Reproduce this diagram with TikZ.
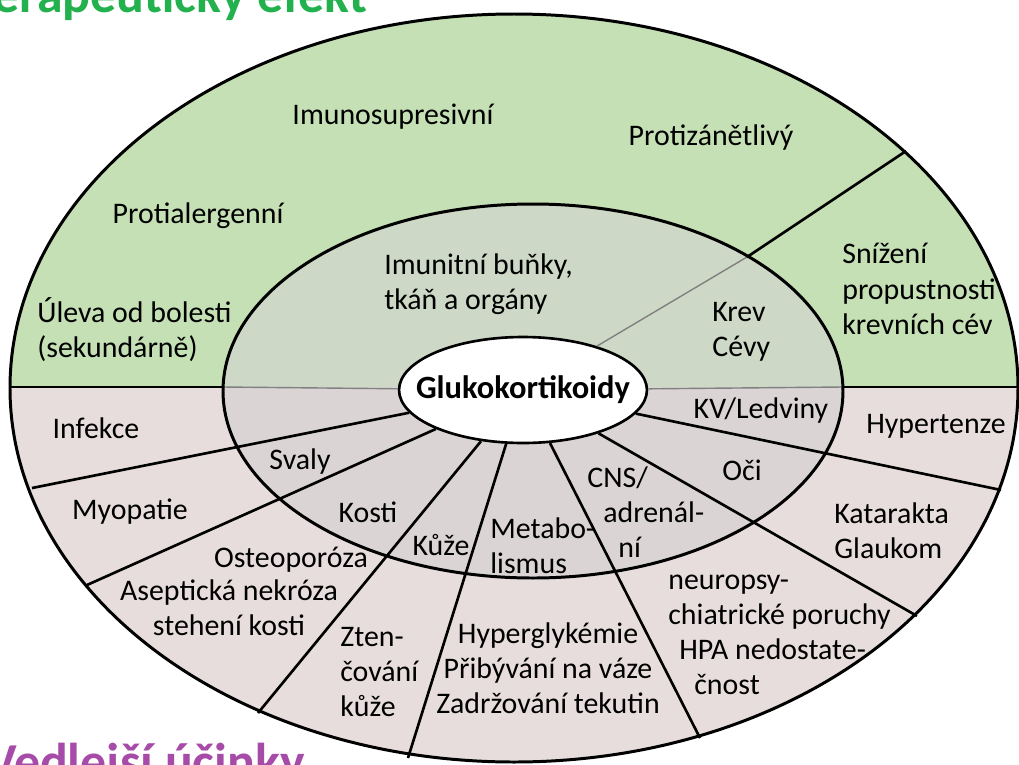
\documentclass[tikz,border=0pt]{standalone}
\usepackage{fontspec}
\setmainfont{Carlito}
\usepackage{xcolor}
\usetikzlibrary{shapes.geometric}

\definecolor{efgreen}{HTML}{C5E0B4}
\definecolor{efpink}{HTML}{E8DDDD}
\definecolor{ingreen}{HTML}{CDD9C6}
\definecolor{inpink}{HTML}{DAD4D4}
\definecolor{titlegreen}{HTML}{22B14C}
\definecolor{titlepurple}{HTML}{A64CA8}

\begin{document}
\begin{tikzpicture}[x=0.02cm, y=-0.02cm,
  font=\fontsize{17}{20}\selectfont,
  lbl/.style={inner sep=0pt, align=left},
  sector/.style={line width=1.5pt},
  faint/.style={line width=0.8pt, black!50},
  ring/.style={line width=1.7pt},
  heading/.style={anchor=base east, inner sep=0pt, font=\fontsize{29.5}{34}\selectfont\bfseries}]
\useasboundingbox (0,0) rectangle (1019,765);
\clip (0,0) rectangle (1019,765);

% halves of both rings
\begin{scope}
  \clip (0,0) rectangle (1019,387);
  \fill[efgreen] (514,388) ellipse [x radius=504, y radius=374];
  \fill[ingreen] (533,391) ellipse [x radius=310, y radius=187];
\end{scope}
\begin{scope}
  \clip (0,387) rectangle (1019,765);
  \fill[efpink] (514,388) ellipse [x radius=504, y radius=374];
  \fill[inpink] (533,391) ellipse [x radius=310, y radius=187];
\end{scope}

\node[draw, ellipse, fill=white, line width=1.5pt, minimum width=4.96cm, minimum height=2.12cm]
  (gk) at (523,390) {\makebox[0pt]{\fontsize{18.5}{22}\selectfont\bfseries Glukokortikoidy}};

% ends of the dividing lines
\coordinate (ol) at (11,387);
\coordinate (il) at (223,387);
\coordinate (ir) at (843,387);
\coordinate (or) at (1017,387);
\coordinate (o0) at (906,151);
\coordinate (i0) at (747,257);
\coordinate (o1) at (32,488);
\coordinate (o2) at (87,585);
\coordinate (o3) at (258,713);
\coordinate (o4) at (408,758);
\coordinate (o5) at (700,738);
\coordinate (o6) at (917,616);
\coordinate (o7) at (1001,490);

\draw[faint] (il) -- (gk);
\draw[faint] (ir) -- (gk);
\draw[faint] (i0) -- (gk);
\draw[sector] (ol) -- (il);
\draw[sector] (ir) -- (or);
\draw[sector] (o0) -- (i0);
\foreach \p in {o1,o2,o3,o4,o5,o6,o7}
  \draw[sector] (\p) -- (gk);

\draw[ring] (533,391) ellipse [x radius=310, y radius=187];
\draw[ring] (514,388) ellipse [x radius=504, y radius=374];

% therapeutic effects
\node[lbl] (imm) at (393,117) {Imunosupresivní};
\node[lbl] (pz) at (711,138) {Protizánětlivý};
\node[lbl] (pa) at (198,216) {Protialergenní};
\node[lbl, anchor=west] (ul) at (37,330) {Úleva od bolesti\\(sekundárně)};
\node[lbl, anchor=west] (ib) at (384,284) {Imunitní buňky,\\tkáň a orgány};
\node[lbl, anchor=west] (kc) at (712,332) {Krev\\Cévy};
\node[lbl, anchor=west] (sp) at (842,289) {Snížení\\propustnosti\\krevních cév};

% side effects
\node[lbl] (kv) at (761,411) {KV/Ledviny};
\node[lbl] (ht) at (936,426) {Hypertenze};
\node[lbl] (inf) at (96,428) {Infekce};
\node[lbl] (sv) at (300,462) {Svaly};
\node[lbl] (oci) at (742,470) {Oči};
\node[lbl] (my) at (130,512) {Myopatie};
\node[lbl] (ko) at (368,512) {Kosti};
\node[lbl, anchor=west] (cns) at (587,512) {CNS/\\\hspace*{0.32cm}adrenál-\\\hspace*{0.62cm}ní};
\node[lbl, anchor=west] (kat) at (834,531) {Katarakta\\Glaukom};
\node[lbl] (ost) at (291,560) {Osteoporóza};
\node[lbl, align=center] (asn) at (229,608) {Aseptická nekróza\\stehení kosti};
\node[lbl] (kuz) at (441,545) {Kůže};
\node[lbl, anchor=west] (met) at (490,546) {Metabo-\\lismus};
\node[lbl, anchor=west] (zt) at (340,672) {Zten-\\čování\\kůže};
\node[lbl, align=center] (hyp) at (548,668) {Hyperglykémie\\Přibývání na váze\\Zadržování tekutin};
\node[lbl, anchor=west] (neu) at (668,635) {neuropsy-\\chiatrické poruchy\\\hspace*{0.22cm}HPA nedostate-\\\hspace*{0.52cm}čnost};

% headings, cut by the frame
\node[heading, text=titlegreen] (tef) at (368,12) {Terapeutický efekt};
\node[heading, text=titlepurple] (vu) at (305,779) {Vedlejší účinky};
\end{tikzpicture}
\end{document}
